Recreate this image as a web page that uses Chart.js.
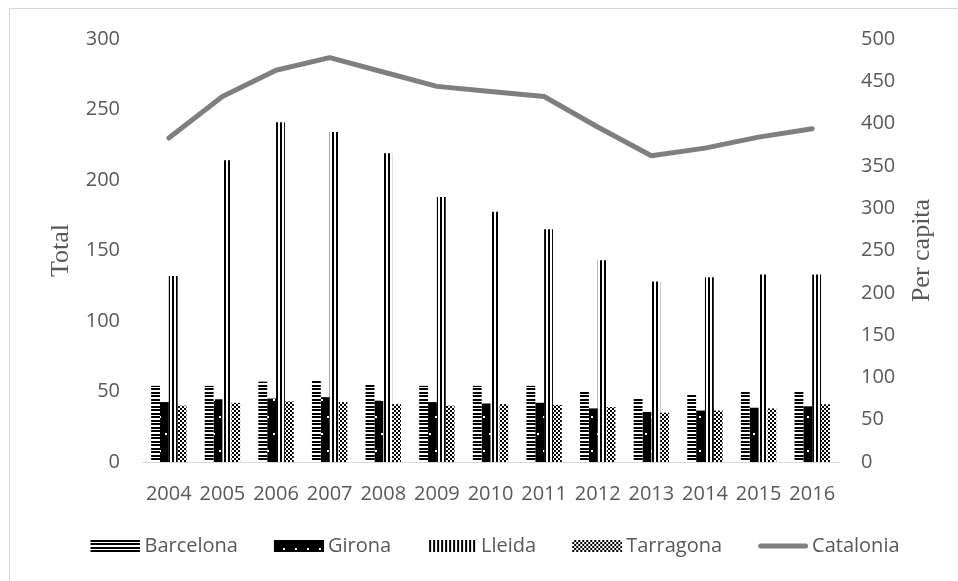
<!DOCTYPE html>
<html>
<head>
<meta charset="utf-8">
<script src="https://cdn.jsdelivr.net/npm/chart.js@4"></script>
<style>
  html, body { margin: 0; padding: 0; background: #fff; }
  #wrap { width: 958px; height: 581px; position: relative; }
</style>
</head>
<body>
<div id="wrap"><canvas id="chart" width="958" height="581"></canvas></div>
<script>
// Sheep & goat stock, 2004-2016
const years = ['2004', '2005', '2006', '2007', '2008', '2009', '2010', '2011', '2012', '2013', '2014', '2015', '2016'];
const barcelona = [54, 54, 57, 57.5, 55.5, 54, 54, 54, 50, 46, 48, 50, 51];
const girona = [42.5, 44.5, 45, 46, 43.5, 42.5, 41.5, 42, 38, 35.5, 36.5, 38.5, 39.5];
const lleida = [132, 214, 241, 234, 219, 188, 177.5, 165, 143, 128, 131, 133, 133];
const tarragona = [40, 42, 43, 42.5, 41, 40, 41, 40.5, 39, 35, 36.5, 38, 41];
const catalonia = [383, 432, 463, 478, 461, 444, 438, 432, 396, 362, 371, 384, 394];

const seriesNames = ['Barcelona', 'Girona', 'Lleida', 'Tarragona', 'Catalonia'];
const leftTitle = 'Total';
const rightTitle = 'Per capita';
const leftMax = 300, rightMax = 500, tickStep = 50;

const GREY_TEXT = '#595959';
const TICK_FONT = { family: '"Open Sans", sans-serif', size: 20 };
const TITLE_FONT = '26px "Liberation Serif", "Times New Roman", serif';

// Small monochrome tiles used as bar fills
function tile(w, h, paint) {
  const c = document.createElement('canvas');
  c.width = w; c.height = h;
  const g = c.getContext('2d');
  g.fillStyle = '#fff';
  g.fillRect(0, 0, w, h);
  g.fillStyle = '#000';
  paint(g, w, h);
  return c;
}
const tiles = {
  Barcelona: tile(4, 7, g => { g.fillRect(0, 0, 4, 2); g.fillRect(0, 3, 4, 2); }),
  Girona: tile(12, 34, (g, w, h) => {
    g.fillRect(0, 0, w, h);
    g.fillStyle = '#fff';
    g.fillRect(3, 8, 2, 2);
    g.fillRect(9, 25, 2, 2);
  }),
  Lleida: tile(4, 1, g => { g.fillRect(0, 0, 2, 1); }),
  Tarragona: tile(4, 4, g => { g.fillRect(0, 0, 2, 2); g.fillRect(2, 2, 2, 2); })
};

const ctx = document.getElementById('chart').getContext('2d');
const fills = {};
Object.keys(tiles).forEach(k => { fills[k] = ctx.createPattern(tiles[k], 'repeat'); });

// Legend swatches: 50px wide, drawn flush right inside a slightly wider canvas
const SWATCH_W = 56, SWATCH_H = 12;
function barSwatch(name) {
  const c = document.createElement('canvas');
  c.width = SWATCH_W; c.height = SWATCH_H;
  const g = c.getContext('2d');
  g.fillStyle = g.createPattern(tiles[name], 'repeat');
  g.fillRect(SWATCH_W - 50, 0, 50, SWATCH_H);
  return c;
}
function lineSwatch() {
  const c = document.createElement('canvas');
  c.width = SWATCH_W; c.height = SWATCH_H;
  const g = c.getContext('2d');
  g.strokeStyle = '#7f7f7f';
  g.lineWidth = 5;
  g.lineCap = 'round';
  g.beginPath();
  g.moveTo(SWATCH_W - 50 + 2.5, SWATCH_H / 2);
  g.lineTo(SWATCH_W - 2.5, SWATCH_H / 2);
  g.stroke();
  return c;
}
const swatches = {
  Barcelona: barSwatch('Barcelona'),
  Girona: barSwatch('Girona'),
  Lleida: barSwatch('Lleida'),
  Tarragona: barSwatch('Tarragona'),
  Catalonia: lineSwatch()
};

// Light frame around the figure
const frame = {
  id: 'frame',
  beforeDraw(chart) {
    const c = chart.ctx;
    c.save();
    c.strokeStyle = '#d9d9d9';
    c.lineWidth = 1;
    c.strokeRect(9.5, 8.5, 1000, 1000);
    c.restore();
  }
};

// Serif axis titles, both reading bottom-to-top
function drawVerticalTitle(c, text, x, y) {
  c.save();
  c.fillStyle = GREY_TEXT;
  c.font = TITLE_FONT;
  c.textAlign = 'center';
  c.textBaseline = 'middle';
  c.translate(x, y);
  c.rotate(-Math.PI / 2);
  c.fillText(text, 0, 0);
  c.restore();
}
const axisTitles = {
  id: 'axisTitles',
  afterDraw(chart) {
    const a = chart.chartArea;
    const midY = (a.top + a.bottom) / 2;
    drawVerticalTitle(chart.ctx, leftTitle, a.left - 81, midY);
    drawVerticalTitle(chart.ctx, rightTitle, a.right + 83, midY);
  }
};

const barSets = [barcelona, girona, lleida, tarragona].map((vals, i) => ({
  type: 'bar',
  label: seriesNames[i],
  data: vals,
  yAxisID: 'y',
  backgroundColor: fills[seriesNames[i]],
  borderWidth: 0,
  categoryPercentage: 0.66,
  barPercentage: 1.0,
  order: 2
}));

new Chart(ctx, {
  data: {
    labels: years,
    datasets: [
      ...barSets,
      {
        type: 'line',
        label: seriesNames[4],
        data: catalonia,
        yAxisID: 'y1',
        borderColor: '#7f7f7f',
        backgroundColor: '#7f7f7f',
        borderWidth: 5,
        borderCapStyle: 'round',
        borderJoinStyle: 'round',
        pointRadius: 0,
        tension: 0,
        order: 1
      }
    ]
  },
  options: {
    responsive: false,
    animation: false,
    devicePixelRatio: 1,
    layout: { padding: { top: 39, left: 32, right: 0, bottom: 15 } },
    plugins: {
      tooltip: { enabled: false },
      legend: {
        position: 'bottom',
        labels: {
          color: GREY_TEXT,
          font: TICK_FONT,
          usePointStyle: true,
          pointStyleWidth: 44,
          padding: 36,
          generateLabels(chart) {
            return chart.data.datasets.map((ds, i) => ({
              text: ds.label,
              datasetIndex: i,
              pointStyle: swatches[ds.label],
              fillStyle: 'transparent',
              strokeStyle: 'transparent',
              lineWidth: 0,
              fontColor: GREY_TEXT,
              hidden: false
            }));
          }
        }
      }
    },
    scales: {
      x: {
        type: 'category',
        grid: { display: false, drawTicks: false },
        border: { display: true, color: '#d9d9d9', width: 1 },
        ticks: { color: GREY_TEXT, font: TICK_FONT, padding: 20, maxRotation: 0, autoSkip: false },
        afterFit(s) { s.height = 38; }
      },
      y: {
        position: 'left',
        min: 0, max: leftMax,
        grid: { display: false, drawTicks: false },
        border: { display: false },
        ticks: { stepSize: tickStep, color: GREY_TEXT, font: TICK_FONT, padding: 22 },
        afterFit(s) { s.width = 110; }
      },
      y1: {
        position: 'right',
        min: 0, max: rightMax,
        grid: { display: false, drawTicks: false },
        border: { display: false },
        ticks: { stepSize: tickStep, color: GREY_TEXT, font: TICK_FONT, padding: 22 },
        afterFit(s) { s.width = 119; }
      }
    }
  },
  plugins: [frame, axisTitles]
});
</script>
</body>
</html>
